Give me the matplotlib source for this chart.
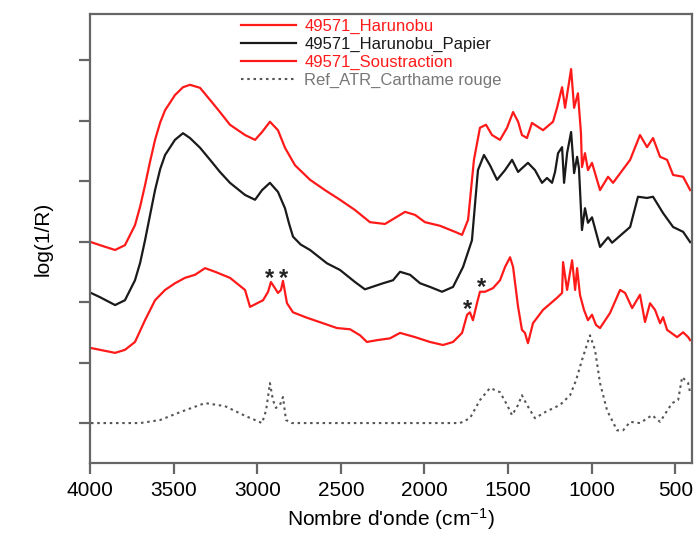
import matplotlib
matplotlib.use('Agg')
import matplotlib.pyplot as plt
import numpy as np

plt.rcParams['font.family'] = ['Liberation Sans', 'DejaVu Sans']
plt.rcParams['mathtext.default'] = 'regular'

# 49571_Harunobu (red, top)
wn_haru = [3994, 3940, 3850, 3791, 3731, 3700, 3671, 3640, 3611, 3580, 3551, 3492, 3444, 3402, 3342,
           3282, 3223, 3163, 3073, 3013, 2971, 2924, 2876, 2834, 2774, 2684, 2595, 2505, 2415, 2326,
           2236, 2176, 2116, 2056, 1997, 1907, 1817, 1775, 1739, 1704, 1668, 1632, 1596, 1548, 1506,
           1470, 1440, 1417, 1387, 1357, 1291, 1231, 1207, 1177, 1159, 1123, 1105, 1082, 1064, 1058,
           1040, 1022, 998, 950, 902, 872, 770, 711, 669, 633, 591, 549, 513, 453, 411]
y_haru = [2.99, 2.94, 2.86, 2.94, 3.27, 3.58, 3.93, 4.33, 4.68, 4.97, 5.17, 5.42, 5.55, 5.59, 5.54,
          5.34, 5.14, 4.93, 4.76, 4.68, 4.81, 4.98, 4.84, 4.55, 4.26, 4.02, 3.85, 3.69, 3.52, 3.32,
          3.29, 3.39, 3.49, 3.44, 3.32, 3.26, 3.16, 3.11, 3.36, 4.35, 4.88, 4.93, 4.76, 4.68, 4.88,
          5.14, 4.98, 4.76, 4.71, 4.96, 4.84, 4.98, 5.21, 5.55, 5.21, 5.85, 5.21, 5.45, 4.79, 4.23,
          4.46, 4.18, 4.30, 3.85, 4.07, 3.97, 4.35, 4.76, 4.56, 4.71, 4.40, 4.35, 4.10, 4.07, 3.85]

# 49571_Harunobu_Papier (black)
wn_pap = [3994, 3940, 3850, 3791, 3731, 3700, 3671, 3640, 3611, 3580, 3551, 3492, 3444, 3402, 3342,
          3282, 3223, 3163, 3073, 3013, 2971, 2924, 2876, 2834, 2810, 2786, 2740, 2684, 2583, 2505,
          2415, 2356, 2248, 2188, 2146, 2086, 2026, 1967, 1895, 1829, 1769, 1716, 1695, 1680, 1644,
          1608, 1566, 1518, 1476, 1440, 1417, 1381, 1339, 1297, 1267, 1237, 1219, 1201, 1177, 1165,
          1147, 1123, 1105, 1087, 1076, 1058, 1040, 1022, 998, 950, 902, 878, 770, 723, 669, 633,
          573, 513, 453, 411]
y_pap = [2.15, 2.08, 1.95, 2.03, 2.36, 2.65, 3.02, 3.45, 3.85, 4.20, 4.43, 4.68, 4.79, 4.71, 4.55,
         4.35, 4.15, 3.97, 3.77, 3.69, 3.85, 3.97, 3.82, 3.55, 3.30, 3.08, 2.95, 2.86, 2.64, 2.53,
         2.33, 2.21, 2.31, 2.36, 2.50, 2.45, 2.31, 2.25, 2.17, 2.25, 2.58, 3.02, 3.70, 4.18, 4.43,
         4.26, 4.02, 4.18, 4.35, 4.15, 4.21, 4.30, 4.18, 3.97, 4.05, 3.97, 4.15, 4.46, 4.56, 3.97,
         4.46, 4.81, 4.13, 4.40, 4.21, 3.19, 3.55, 3.31, 3.40, 2.91, 3.07, 2.98, 3.24, 3.74, 3.72,
         3.74, 3.47, 3.24, 3.16, 2.99]

# 49571_Soustraction (red, bottom)
wn_sous = [3994, 3940, 3850, 3791, 3731, 3671, 3611, 3551, 3492, 3432, 3372, 3312, 3252, 3163, 3073,
           3043, 2965, 2935, 2918, 2894, 2876, 2858, 2846, 2822, 2786, 2702, 2607, 2523, 2445, 2385,
           2344, 2284, 2206, 2146, 2056, 1967, 1889, 1829, 1775, 1745, 1728, 1710, 1686, 1668, 1638,
           1590, 1548, 1518, 1488, 1470, 1440, 1417, 1399, 1381, 1351, 1291, 1207, 1177, 1171, 1147,
           1117, 1099, 1087, 1070, 1046, 1022, 998, 974, 950, 890, 830, 800, 758, 711, 681, 651, 621,
           591, 573, 549, 489, 453, 423, 411]
y_sous = [1.24, 1.21, 1.16, 1.21, 1.34, 1.70, 2.03, 2.20, 2.31, 2.40, 2.45, 2.56, 2.50, 2.40, 2.20,
          1.92, 2.03, 2.17, 2.33, 2.23, 2.15, 2.20, 2.35, 1.98, 1.83, 1.74, 1.65, 1.57, 1.55, 1.45,
          1.34, 1.37, 1.40, 1.49, 1.42, 1.34, 1.29, 1.34, 1.49, 1.79, 1.83, 1.70, 1.98, 2.17, 2.17,
          2.23, 2.36, 2.58, 2.74, 2.58, 1.92, 1.54, 1.49, 1.32, 1.65, 1.87, 2.07, 2.15, 2.66, 2.20,
          2.69, 2.20, 2.56, 2.12, 1.87, 1.70, 1.79, 1.62, 1.57, 1.82, 2.20, 2.15, 1.90, 2.12, 1.67,
          1.98, 1.87, 1.65, 1.75, 1.54, 1.42, 1.50, 1.42, 1.37]

# Ref_ATR_Carthame rouge (grey dotted)
wn_ref = [3994, 3700, 3581, 3462, 3312, 3193, 3073, 2971, 2947, 2924, 2906, 2888, 2864, 2846, 2828,
          2792, 1787, 1728, 1668, 1608, 1548, 1506, 1476, 1440, 1417, 1387, 1339, 1279, 1189, 1129,
          1093, 1058, 1010, 980, 950, 908, 848, 812, 770, 711, 639, 591, 519, 483, 459, 423, 411]
y_ref = [0.0, 0.0, 0.05, 0.18, 0.33, 0.28, 0.12, 0.0, 0.21, 0.66, 0.38, 0.25, 0.30, 0.43, 0.05,
         0.0, 0.0, 0.08, 0.38, 0.58, 0.51, 0.30, 0.13, 0.30, 0.46, 0.30, 0.08, 0.18, 0.30, 0.46,
         0.71, 1.04, 1.45, 1.21, 0.66, 0.21, -0.12, -0.12, 0.02, 0.0, 0.13, 0.02, 0.33, 0.38, 0.76,
         0.66, 0.50]

star_wn = [2924, 2840, 1745, 1656]
star_y = [2.28, 2.28, 1.77, 2.13]

grey = '#666666'
fig = plt.figure(figsize=(6.97, 5.33), dpi=100)
ax = fig.add_axes([90/697, 70/533, 602/697, 449/533])

ax.plot(wn_haru, y_haru, color='#ff1a1a', lw=1.6, label='49571_Harunobu')
ax.plot(wn_pap, y_pap, color='#1a1a1a', lw=1.6, label='49571_Harunobu_Papier')
ax.plot(wn_sous, y_sous, color='#ff1a1a', lw=1.6, label='49571_Soustraction')
ax.plot(wn_ref, y_ref, color='#555555', lw=1.5, ls=(0, (1.2, 1.8)), label='Ref_ATR_Carthame rouge')

for w, y in zip(star_wn, star_y):
    ax.text(w, y, '*', fontsize=17, fontweight='bold', ha='center', va='baseline', color='#222222')

ax.set_xlim(4000, 400)
ax.set_ylim(-0.66, 6.76)
ax.set_xticks([4000, 3500, 3000, 2500, 2000, 1500, 1000, 500])
ax.set_yticks(range(7))
ax.set_yticklabels([])
ax.tick_params(axis='both', direction='out', length=8, width=1.6, color=grey,
               labelsize=15, pad=5)
for s in ax.spines.values():
    s.set_color(grey)
    s.set_linewidth(1.6)

ax.set_xlabel("Nombre d'onde (cm$^{-1}$)", fontsize=15)
ax.xaxis.set_label_coords(0.5, -0.095)
ax.set_ylabel('log(1/R)', fontsize=15)
ax.yaxis.set_label_coords(-0.062, 0.5)

leg = ax.legend(loc='upper left', bbox_to_anchor=(241/697, 1 - 19/533),
                bbox_transform=fig.transFigure, frameon=False, fontsize=12,
                handlelength=3.3, handletextpad=0.5, labelspacing=0.17,
                borderpad=0, borderaxespad=0, labelcolor='linecolor')
leg.get_texts()[3].set_color('#777777')

plt.savefig('out.png', dpi=100)
